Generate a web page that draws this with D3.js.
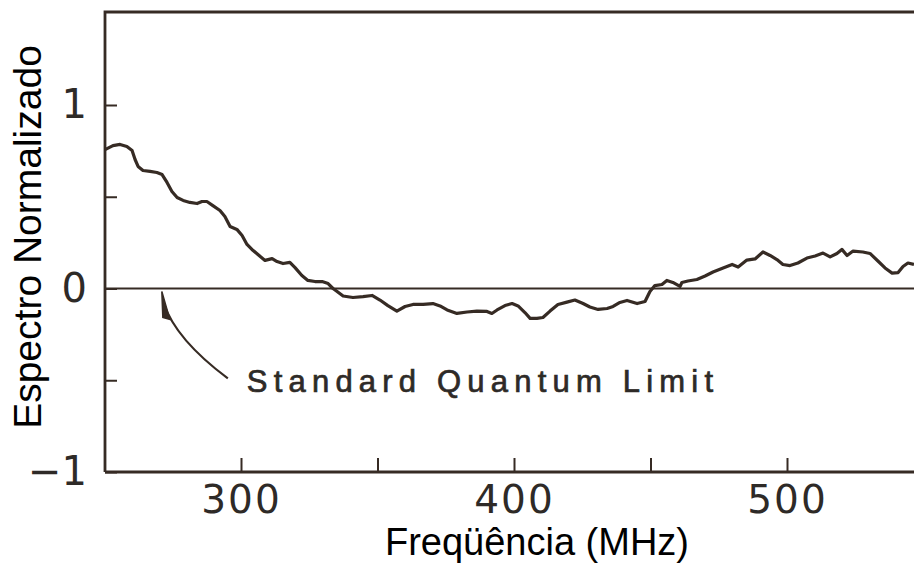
<!DOCTYPE html>
<html>
<head>
<meta charset="utf-8">
<script src="https://cdn.jsdelivr.net/npm/d3@7"></script>
<style>
  html, body { margin: 0; padding: 0; background: #fff; }
  svg { display: block; }
</style>
</head>
<body>
<svg id="chart" width="914" height="567"></svg>
<script>
// Measured normalized spectrum vs. frequency
const freqMHz = [
  250.2, 253.1, 255.7, 258.2, 260.1, 261.2, 262.3, 264.1, 266.7, 269.2,
  271.1, 272.9, 274.7, 276.6, 278.8, 281.3, 283.9, 285.7, 287.5, 289.7,
  292.3, 294.1, 296.0, 298.5, 300.4, 302.2, 304.0, 306.2, 308.8, 311.4,
  313.2, 315.4, 317.9, 319.8, 322.3, 324.5, 327.1, 329.7, 331.9, 333.7,
  335.2, 337.4, 341.0, 344.7, 348.0, 350.9, 353.8, 357.1, 360.1, 363.0,
  366.7, 370.3, 372.9, 375.5, 379.1, 382.8, 386.4, 390.1, 391.9, 393.8,
  396.7, 399.3, 401.5, 404.0, 405.9, 408.4, 410.6, 413.2, 416.1, 419.4,
  422.3, 425.3, 427.8, 430.8, 434.1, 436.3, 438.8, 441.4, 445.1, 448.0,
  449.8, 451.6, 454.2, 456.0, 458.2, 460.8, 461.5, 463.7, 467.0, 470.0,
  472.9, 476.6, 479.9, 482.1, 485.3, 488.3, 491.2, 493.8, 496.3, 498.5,
  501.1, 504.0, 507.3, 510.3, 513.2, 515.8, 518.3, 520.1, 522.0, 524.2,
  527.8, 530.4, 533.3, 535.9, 538.5, 540.7, 542.5, 544.3, 546.5
];
const spectrum = [
  0.757, 0.779, 0.785, 0.774, 0.752, 0.703, 0.665, 0.643, 0.638, 0.632,
  0.621, 0.578, 0.529, 0.496, 0.480, 0.469, 0.463, 0.474, 0.474, 0.452,
  0.425, 0.392, 0.338, 0.322, 0.289, 0.240, 0.213, 0.185, 0.153, 0.163,
  0.147, 0.136, 0.142, 0.114, 0.071, 0.044, 0.038, 0.038, 0.027, 0.000,
  -0.016, -0.041, -0.049, -0.044, -0.038, -0.063, -0.093, -0.123, -0.098, -0.087,
  -0.087, -0.082, -0.095, -0.117, -0.136, -0.128, -0.123, -0.125, -0.136, -0.117,
  -0.093, -0.082, -0.095, -0.131, -0.163, -0.163, -0.158, -0.123, -0.087, -0.074,
  -0.063, -0.082, -0.101, -0.114, -0.109, -0.098, -0.076, -0.065, -0.082, -0.071,
  -0.016, 0.016, 0.022, 0.044, 0.033, 0.011, 0.033, 0.041, 0.049, 0.068,
  0.090, 0.112, 0.131, 0.117, 0.155, 0.161, 0.199, 0.180, 0.158, 0.131,
  0.125, 0.139, 0.166, 0.177, 0.193, 0.172, 0.191, 0.213, 0.180, 0.204,
  0.199, 0.191, 0.150, 0.112, 0.084, 0.087, 0.120, 0.139, 0.131
];
const xTicks = [300, 350, 400, 450, 500];
const xTickLabels = ["300", "", "400", "", "500"];
const yTicks = [-1, -0.5, 0, 0.5, 1];
const yTickLabels = ["\u22121", "", "0", "", "1"];
const xTitle = "Freqüência (MHz)";
const yTitle = "Espectro Normalizado";
const noteText = "Standard Quantum Limit";
const noteFreq = 271;   // where the arrow meets the reference level

const ink = "#362b24";
const svg = d3.select("#chart");

const x = d3.scaleLinear().domain([300, 500]).range([241, 787]);
const y = d3.scaleLinear().domain([-1, 1]).range([472, 105]);

const fMin = x.invert(105), fMax = x.invert(914);
const vTop = y.invert(12);

// Frame: left and top borders
svg.append("path")
  .attr("d", `M${x(fMin)},${y(-1)} V${y(vTop)} H${x(fMax)}`)
  .attr("fill", "none").attr("stroke", ink).attr("stroke-width", 2.8);

// Bottom axis, ticks pointing inward
const xAxis = d3.axisBottom(x)
  .tickValues(xTicks)
  .tickSizeInner(-14).tickSizeOuter(0).tickPadding(12)
  .tickFormat((d, i) => xTickLabels[i]);
const gx = svg.append("g").attr("transform", `translate(0,${y(-1)})`).call(xAxis);
gx.select(".domain").remove();
gx.append("line")
  .attr("x1", x(fMin)).attr("x2", x(fMax))
  .attr("stroke", ink).attr("stroke-width", 2.8);
gx.selectAll(".tick line").attr("stroke", ink).attr("stroke-width", 2);
gx.selectAll(".tick text")
  .attr("fill", "#2e2a27")
  .attr("font-family", "'DejaVu Sans', sans-serif")
  .attr("font-size", 39)
  .attr("letter-spacing", 2)
  .attr("dy", "0.74em");

// Left axis, ticks pointing inward
const yAxis = d3.axisLeft(y)
  .tickValues(yTicks)
  .tickSizeInner(-12).tickSizeOuter(0).tickPadding(18)
  .tickFormat((d, i) => yTickLabels[i]);
const gy = svg.append("g").attr("transform", `translate(${x(fMin)},0)`).call(yAxis);
gy.select(".domain").remove();
gy.selectAll(".tick line").attr("stroke", ink).attr("stroke-width", 2);
gy.selectAll(".tick text")
  .attr("fill", "#2e2a27")
  .attr("font-family", "'DejaVu Sans', sans-serif")
  .attr("font-size", 40);

// Reference level at zero
svg.append("line")
  .attr("x1", x(fMin)).attr("x2", x(fMax))
  .attr("y1", y(0)).attr("y2", y(0))
  .attr("stroke", ink).attr("stroke-width", 2.2);

// Spectrum trace
const pts = freqMHz.map((f, i) => [f, spectrum[i]]);
svg.append("path")
  .datum(pts)
  .attr("fill", "none")
  .attr("stroke", ink)
  .attr("stroke-width", 3.2)
  .attr("stroke-linejoin", "round")
  .attr("d", d3.line().x(d => x(d[0])).y(d => y(d[1])));

// Annotation: label with curved arrow to the zero level
const tipX = x(noteFreq), tipY = y(0) + 3;
const tailX = tipX + 66, tailY = y(-0.49);
svg.append("path")
  .attr("d", `M${tailX},${tailY} Q${tipX + 14},${tipY + 48} ${tipX + 2},${tipY + 12}`)
  .attr("fill", "none").attr("stroke", ink).attr("stroke-width", 2.2);
svg.append("path")
  .attr("d", `M${tipX},${tipY} L${tipX + 8},${tipY + 28} L${tipX + 1},${tipY + 26} Z`)
  .attr("fill", ink).attr("stroke", ink).attr("stroke-width", 1.5);
svg.append("text")
  .attr("x", tailX + 19).attr("y", 392)
  .attr("fill", "#2e2a27")
  .attr("stroke", "#2e2a27").attr("stroke-width", 0.7)
  .attr("font-family", "'Liberation Sans', Arial, sans-serif")
  .attr("font-size", 31)
  .attr("letter-spacing", 6.2)
  .text(noteText);

// Axis titles
svg.append("text")
  .attr("x", 537).attr("y", 555)
  .attr("text-anchor", "middle")
  .attr("fill", "#000")
  .attr("font-family", "'Liberation Sans', Arial, sans-serif")
  .attr("font-size", 38)
  .text(xTitle);
svg.append("text")
  .attr("transform", `translate(41,237) rotate(-90)`)
  .attr("text-anchor", "middle")
  .attr("fill", "#000")
  .attr("font-family", "'Liberation Sans', Arial, sans-serif")
  .attr("font-size", 39)
  .text(yTitle);
</script>
</body>
</html>
